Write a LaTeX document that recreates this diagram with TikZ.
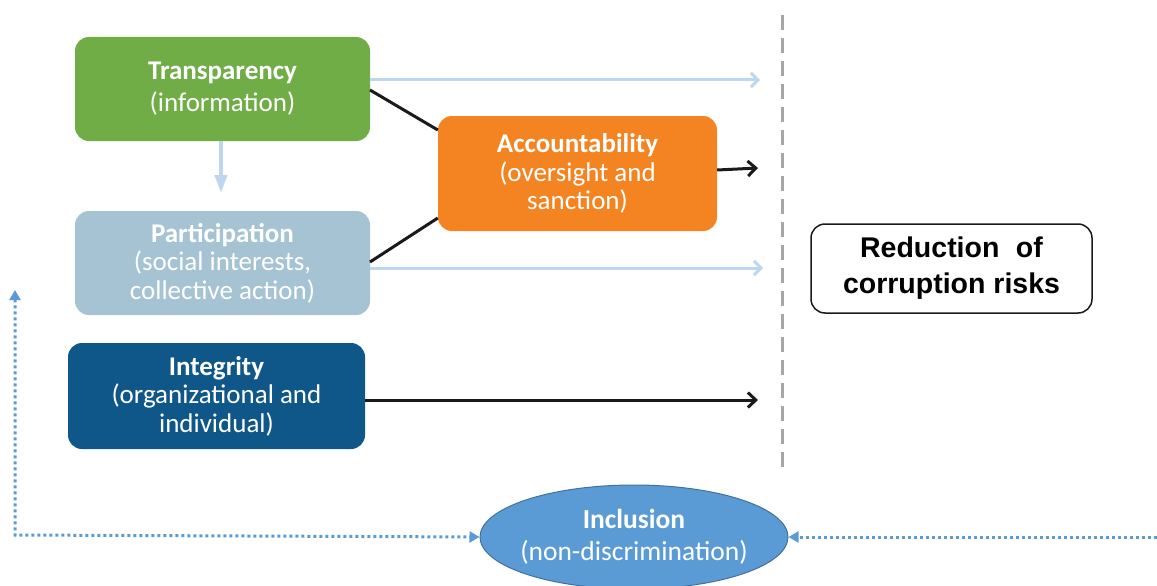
\documentclass[tikz,border=0pt]{standalone}
\usepackage{fontspec}
\setmainfont{Carlito}
\newfontfamily\arialfont{Liberation Sans}
\usetikzlibrary{arrows.meta,shapes.geometric}
\definecolor{cgreen}{HTML}{70AD47}
\definecolor{cpart}{HTML}{A5C3D3}
\definecolor{cinteg}{HTML}{0E5788}
\definecolor{corange}{HTML}{F48421}
\definecolor{cincl}{HTML}{5B9BD5}
\definecolor{cinclb}{HTML}{41719C}
\definecolor{clight}{HTML}{BDD7EE}
\definecolor{cgray}{HTML}{A6A6A6}
\definecolor{cblack}{HTML}{1A1A1A}
\begin{document}
\begin{tikzpicture}[x=1pt,y=-1pt,
  box/.style={rounded corners=14pt, text=white, align=center, inner sep=0pt,
    font=\fontsize{27}{28.5}\selectfont},
  lightarrow/.style={draw=clight, line width=3pt, -{Straight Barb[length=7pt,width=14pt,line width=3pt]}},
  blackline/.style={draw=cblack, line width=3pt},
  blackarrow/.style={draw=cblack, line width=3pt, -{Straight Barb[length=8pt,width=15pt,line width=3pt]}},
  dotarrow/.style={draw=cincl, line width=3pt, dash pattern=on 3pt off 3pt, -{Triangle[length=10pt,width=11pt]}}
]
\useasboundingbox (0,0) rectangle (1157,586);

% dashed divider
\draw[cgray, line width=3pt, dash pattern=on 15pt off 8pt] (782,15) -- (782,470);

\node[box, fill=cgreen, minimum width=295pt, minimum height=104pt, font=\fontsize{27}{32}\selectfont] (trans) at (222.5,89)
  {\textbf{Transparency}\\(information)};
\node[box, fill=cpart, minimum width=295pt, minimum height=104pt] (part) at (222.5,263)
  {\textbf{Participation}\\(social interests,\\collective action)};
\node[box, fill=cinteg, minimum width=297pt, minimum height=106pt] (integ) at (216.5,396)
  {\textbf{Integrity}\\(organizational and\\individual)};
\node[box, fill=corange, minimum width=279pt, minimum height=115pt] (acc) at (577.5,173.5)
  {\textbf{Accountability}\\(oversight and\\sanction)};
\node[draw=cblack, line width=1.5pt, rounded corners=14pt, align=center, inner sep=0pt,
  minimum width=281pt, minimum height=89pt,
  font=\arialfont\bfseries\fontsize{28.5}{36}\selectfont] (red) at (951.5,268.5)
  {Reduction\hspace{0.3em} of\\corruption risks};
\node[ellipse, fill=cincl, draw=cinclb, line width=1pt, text=white, align=center, inner sep=0pt,
  minimum width=308pt, minimum height=104pt, font=\fontsize{27.5}{32}\selectfont] (incl) at (634,537)
  {\makebox[0pt]{\textbf{Inclusion}}\\\makebox[0pt]{(non-discrimination)}};

% coordinates for free ends
\coordinate (t1) at (760,80);
\coordinate (p1) at (763,268);
\coordinate (a1) at (758,168);
\coordinate (i1) at (758,400);
\coordinate (down) at (221,193);
\coordinate (rgt) at (1157,537);
\coordinate (corner) at (15,535);
\coordinate (up) at (15,290);

\draw[lightarrow] (trans.east |- t1) -- (t1);
\draw[lightarrow] (part.east |- p1) -- (p1);
\draw[draw=clight, line width=4pt, -{Triangle[length=18pt,width=12pt]}] (trans.south -| down) -- (down);

\draw[blackline] (370,90) -- (acc.west |- 0,130);
\draw[blackline] (370,262) -- (acc.west |- 0,218);
\draw[blackarrow] (acc.east |- 0,170) -- (a1);
\draw[blackarrow] (integ.east |- i1) -- (i1);

\draw[dotarrow] (rgt) -- (incl.east);
\draw[draw=cincl, line width=3pt, dash pattern=on 3pt off 3pt, {Triangle[length=10pt,width=11pt]}-{Triangle[length=10pt,width=11pt]}]
  (up) -- (corner) -- (incl.west);
\end{tikzpicture}
\end{document}
